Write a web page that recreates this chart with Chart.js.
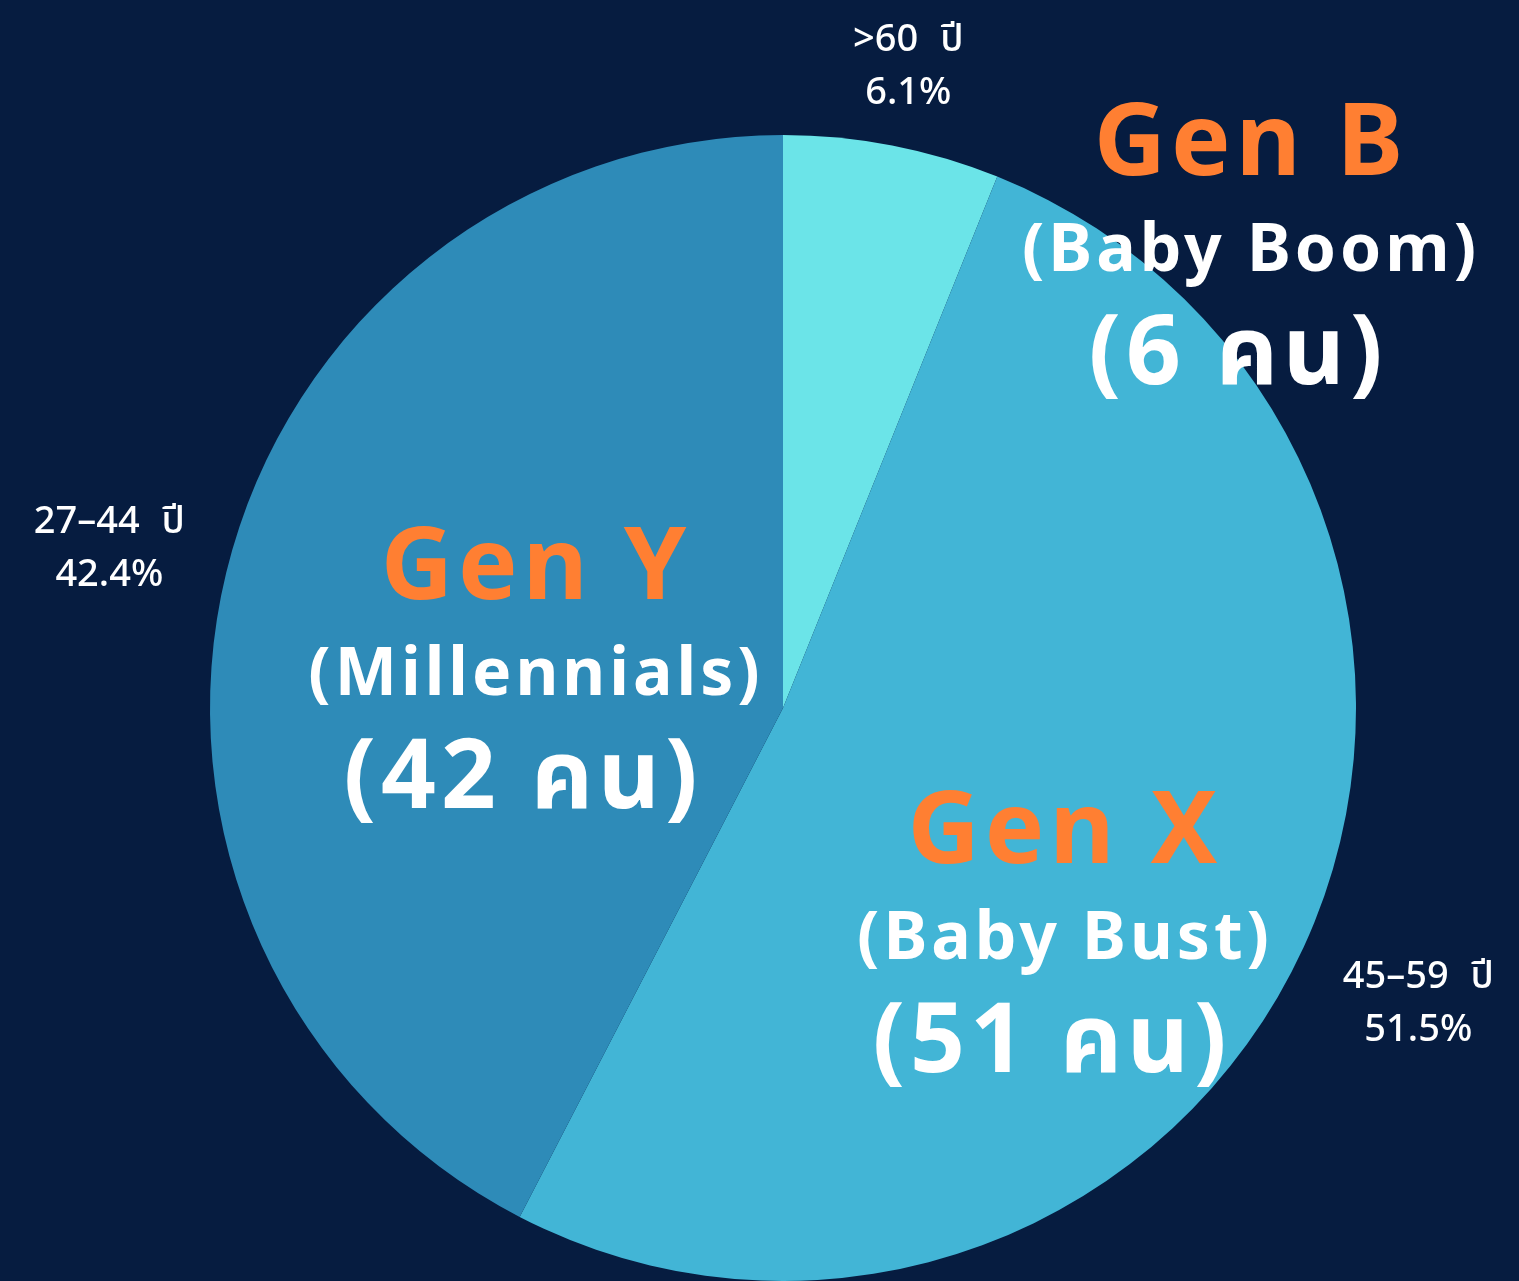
<!DOCTYPE html>
<html>
<head>
<meta charset="utf-8">
<script src="https://cdn.jsdelivr.net/npm/chart.js@4.4.1/dist/chart.umd.min.js"></script>
<style>
html, body { margin: 0; padding: 0; background: #061c40; }
#wrap { width: 1519px; height: 1281px; position: relative; }
</style>
</head>
<body>
<div id="wrap"><canvas id="gen-chart"></canvas></div>
<script>
// chart data
const ageGroups = [">60 ปี", "45–59 ปี", "27–44 ปี"];
const percentages = [6.1, 51.5, 42.4];
const genNames = ["Gen B", "Gen X", "Gen Y"];
const genSubtitles = ["(Baby Boom)", "(Baby Bust)", "(Millennials)"];
const peopleCounts = [6, 51, 42];

const sliceColors = ["#6be4e8", "#42b5d6", "#2e8bb8"];
const fontFamily = '"Noto Sans", "Noto Sans Thai", "Loma", sans-serif';

// how far out the small age labels sit (times the radius)
const outsideLabelDist = [1.148, 1.22, 1.21];
// where the big Gen captions go (centre x, top line centre y)
const captionSpots = [
    {x: 1251, y: 147},
    {x: 1065, y: 835},
    {x: 536, y: 571}
];

//Small labels outside of the pie
const outsideLabels = {
    id: "outsideLabels",
    afterDatasetsDraw(chart){
        const ctx = chart.ctx;
        const meta = chart.getDatasetMeta(0);
        ctx.save();
        ctx.fillStyle = "#ffffff";
        ctx.textAlign = "center";
        ctx.textBaseline = "middle";
        ctx.font = "500 38px " + fontFamily;
        ctx.wordSpacing = "12px";
        meta.data.forEach((arc, i) =>{
            const mid = (arc.startAngle + arc.endAngle) / 2;
            const r = arc.outerRadius * outsideLabelDist[i];
            const x = arc.x + Math.cos(mid) * r;
            const y = arc.y + Math.sin(mid) * r;
            ctx.fillText(ageGroups[i], x, y - 22);
            ctx.fillText(percentages[i].toFixed(1) + "%", x, y + 31);
        });
        ctx.restore();
    }
};

//Big generation captions
const genCaptions = {
    id: "genCaptions",
    afterDraw(chart){
        const ctx = chart.ctx;
        ctx.save();
        ctx.textAlign = "center";
        ctx.textBaseline = "middle";
        genNames.forEach((name, i) =>{
            const spot = captionSpots[i];
            ctx.fillStyle = "#ff7f32";
            ctx.letterSpacing = "5px";
            ctx.font = "bold 100px " + fontFamily;
            ctx.fillText(name, spot.x, spot.y);
            ctx.fillStyle = "#ffffff";
            ctx.letterSpacing = "4px";
            ctx.font = "bold 66px " + fontFamily;
            ctx.fillText(genSubtitles[i], spot.x, spot.y + 105);
            ctx.letterSpacing = "5px";
            ctx.font = "bold 96px " + fontFamily;
            ctx.fillText("(" + peopleCounts[i] + " คน)", spot.x - 13, spot.y + 210);
        });
        ctx.restore();
    }
};

new Chart("gen-chart", {
    type: "pie",
    data: {
        labels: ageGroups,
        datasets: [{
            data: percentages,
            backgroundColor: sliceColors,
            borderWidth: 0
        }]
    },
    options: {
        responsive: true,
        maintainAspectRatio: false,
        animation: false,
        layout: {
            padding: {top: 135, bottom: 0, left: 210, right: 163}
        },
        plugins: {
            legend: {display: false},
            tooltip: {enabled: false}
        }
    },
    plugins: [outsideLabels, genCaptions]
});
</script>
</body>
</html>
